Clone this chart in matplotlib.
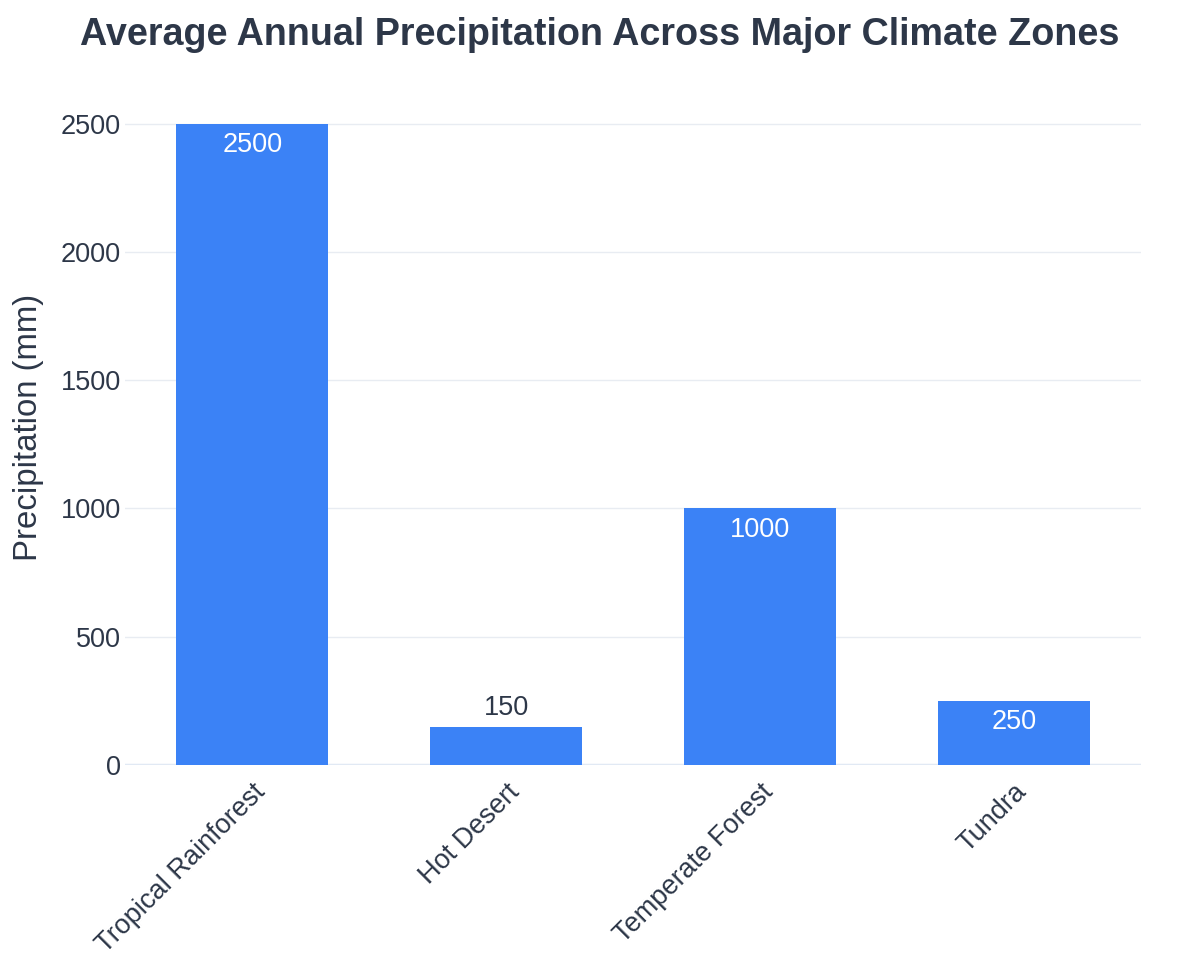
import matplotlib
matplotlib.use("Agg")
import matplotlib.pyplot as plt

# Data
zones = ["Tropical Rainforest", "Hot Desert", "Temperate Forest", "Tundra"]
precip_mm = [2500, 150, 1000, 250]
y_ticks = [0, 500, 1000, 1500, 2000, 2500]

BAR_COLOR = "#3b82f6"
TEXT_COLOR = "#2d3748"
GRID_COLOR = "#e8ecf2"

plt.rcParams["font.family"] = ["Liberation Sans", "DejaVu Sans"]

fig = plt.figure(figsize=(12, 9.75), dpi=100)
ax = fig.add_axes([0.1045, 0.2154, 0.846, 0.6923])

x = range(len(zones))
bars = ax.bar(x, precip_mm, width=0.6, color=BAR_COLOR, zorder=3)

ax.set_xlim(-0.5, len(zones) - 0.5)
ax.set_ylim(0, 2631.6)
ax.set_yticks(y_ticks)
ax.set_yticklabels([str(v) for v in y_ticks])
ax.set_xticks(list(x))
ax.set_xticklabels(zones, rotation=45, ha="right", rotation_mode="anchor")

ax.tick_params(axis="both", length=0, labelsize=19.5, colors=TEXT_COLOR)
ax.tick_params(axis="y", pad=3)
ax.tick_params(axis="x", pad=10)

ax.grid(axis="y", color=GRID_COLOR, linewidth=1, zorder=0)
ax.axhline(0, color="#e1e9f4", linewidth=2.5, zorder=2)
for side in ax.spines.values():
    side.set_visible(False)

ax.set_ylabel("Precipitation (mm)", fontsize=23.8, color=TEXT_COLOR, labelpad=12)

# value labels: inside for tall bars, above for short ones
for rect, val in zip(bars, precip_mm):
    cx = rect.get_x() + rect.get_width() / 2
    if val >= 200:
        ax.annotate(str(val), (cx, val), xytext=(0, -6), textcoords="offset points",
                    ha="center", va="top", fontsize=19.5, color="white", zorder=4)
    else:
        ax.annotate(str(val), (cx, val), xytext=(0, 4), textcoords="offset points",
                    ha="center", va="bottom", fontsize=19.5, color=TEXT_COLOR, zorder=4)

fig.suptitle("Average Annual Precipitation Across Major Climate Zones",
             fontsize=27.2, fontweight="bold", color=TEXT_COLOR, y=0.983)

fig.savefig("out.png", dpi=100, facecolor="white")
